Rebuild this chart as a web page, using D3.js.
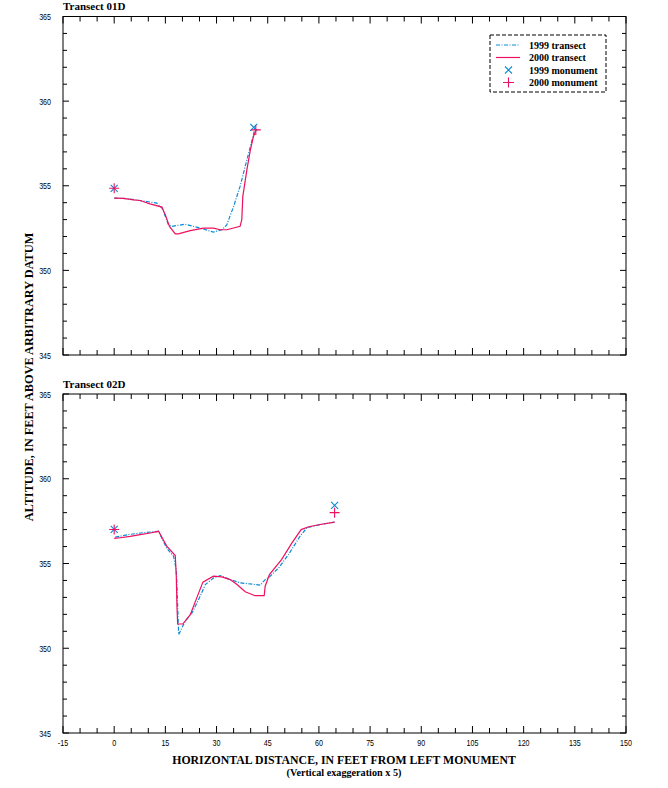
<!DOCTYPE html>
<html>
<head>
<meta charset="utf-8">
<script src="https://cdn.jsdelivr.net/npm/d3@7"></script>
<style>
  body { margin: 0; background: #fff; }
  .tick-label { font-family: "Liberation Sans", "DejaVu Sans", sans-serif; font-size: 9.5px; }
  .serif { font-family: "Liberation Serif", "Times New Roman", serif; font-weight: bold; }
</style>
</head>
<body>
<div id="chart"></div>
<script>
// Transect 01D
var t1Dist1999 = [0, 3.7, 9.6, 12.5, 14, 15, 15.9, 16.9, 20.8, 25.2, 29.1, 31.6, 33.0, 35, 36.9, 38.9, 40.8, 41.2];
var t1Alt1999  = [354.27, 354.24, 354.07, 353.97, 353.68, 353.18, 352.69, 352.6, 352.73, 352.5, 352.26, 352.4, 352.69, 353.78, 354.96, 356.54, 358.0, 358.4];
var t1Dist2000 = [0, 2.7, 5.7, 7.6, 10.5, 14, 15, 16.2, 17.9, 18.8, 22.3, 26.2, 29.1, 31.1, 33.0, 36.9, 37.4, 37.7, 38.9, 39.9, 40.8, 41.5];
var t1Alt2000  = [354.27, 354.25, 354.17, 354.13, 353.93, 353.74, 353.28, 352.6, 352.16, 352.16, 352.35, 352.5, 352.5, 352.4, 352.4, 352.6, 353.0, 354.37, 355.95, 357.1, 357.9, 358.27];
var t1Mon1999 = [[0, 354.85], [40.9, 358.45]];
var t1Mon2000 = [[0, 354.85], [41.5, 358.3]];

// Transect 02D
var t2Dist1999 = [0.3, 4.7, 8.6, 13.0, 15.4, 17.4, 18.2, 18.4, 18.6, 18.9, 20.8, 22.8, 25.2, 26.7, 29.1, 31.1, 34, 36.9, 41.3, 42.8, 44.25, 45.5, 48.2, 51.1, 54.5, 56.5, 60.4, 64.6];
var t2Alt1999  = [356.56, 356.72, 356.82, 356.9, 355.9, 355.43, 354.64, 353.66, 352.47, 350.8, 351.59, 352.08, 353.07, 353.76, 354.14, 354.29, 354.05, 353.86, 353.76, 353.72, 354.05, 354.21, 354.74, 355.53, 356.62, 357.11, 357.3, 357.44];
var t2Dist2000 = [0, 1.76, 4.7, 7.6, 10.55, 13.0, 15.4, 17.9, 18.2, 18.4, 18.6, 20.1, 22.3, 24.2, 26.0, 29.1, 31.5, 34, 36, 38.4, 41.3, 43.96, 44.25, 45.5, 49.1, 52.1, 54.8, 57.0, 60.4, 64.6];
var t2Alt2000  = [356.48, 356.52, 356.6, 356.7, 356.8, 356.9, 356.03, 355.47, 354.25, 352.47, 351.43, 351.43, 351.98, 352.97, 353.9, 354.25, 354.21, 354.05, 353.76, 353.33, 353.1, 353.1, 353.66, 354.35, 355.24, 356.22, 357.0, 357.17, 357.3, 357.44];
var t2Mon1999 = [[0, 357.01], [64.6, 358.43]];
var t2Mon2000 = [[0, 357.01], [64.6, 358.0]];

var xTicks = [-15, 0, 15, 30, 45, 60, 75, 90, 105, 120, 135, 150];
var yTicks = [345, 350, 355, 360, 365];
var legendLabels = ["1999 transect", "2000 transect", "1999 monument", "2000 monument"];

var blue = "#0a8ad6", red = "#ee1060";
var narrow = 0.75; // horizontal squeeze for the condensed tick font

var width = 668, height = 788;
var svg = d3.select("#chart").append("svg")
  .attr("width", width)
  .attr("height", height);

var x = d3.scaleLinear().domain([-15, 150]).range([63, 626]);

var panels = [
  { title: "Transect 01D", top: 16.5, bottom: 355, d99: t1Dist1999, a99: t1Alt1999, d00: t1Dist2000, a00: t1Alt2000, m99: t1Mon1999, m00: t1Mon2000, legend: true, xLabels: false },
  { title: "Transect 02D", top: 394, bottom: 733, d99: t2Dist1999, a99: t2Alt1999, d00: t2Dist2000, a00: t2Alt2000, m99: t2Mon1999, m00: t2Mon2000, legend: false, xLabels: true }
];

panels.forEach(function(p) {
  var y = d3.scaleLinear().domain([345, 365]).range([p.bottom, p.top]);
  var g = svg.append("g");

  // frame
  g.append("rect")
    .attr("x", x(-15)).attr("y", y(365))
    .attr("width", x(150) - x(-15)).attr("height", y(345) - y(365))
    .attr("fill", "none").attr("stroke", "#000").attr("stroke-width", 1);

  // x ticks every 5, inward, top and bottom
  d3.range(-15, 151, 5).forEach(function(v) {
    var len = (v % 15 === 0) ? 7 : 5;
    g.append("line").attr("x1", x(v)).attr("x2", x(v)).attr("y1", y(345)).attr("y2", y(345) - len).attr("stroke", "#000");
    g.append("line").attr("x1", x(v)).attr("x2", x(v)).attr("y1", y(365)).attr("y2", y(365) + len).attr("stroke", "#000");
  });
  // y ticks every 1, inward, left and right
  d3.range(345, 366, 1).forEach(function(v) {
    var len = (v % 5 === 0) ? 6 : 4;
    g.append("line").attr("x1", x(-15)).attr("x2", x(-15) + len).attr("y1", y(v)).attr("y2", y(v)).attr("stroke", "#000");
    g.append("line").attr("x1", x(150)).attr("x2", x(150) - len).attr("y1", y(v)).attr("y2", y(v)).attr("stroke", "#000");
  });

  g.selectAll(".ylab").data(yTicks).enter().append("text")
    .attr("class", "tick-label")
    .attr("transform", function(d) { return "translate(51," + (y(d) + 3.5) + ") scale(" + narrow + ",1)"; })
    .attr("text-anchor", "end")
    .text(function(d) { return d; });

  if (p.xLabels) {
    g.selectAll(".xlab").data(xTicks).enter().append("text")
      .attr("class", "tick-label")
      .attr("transform", function(d) { return "translate(" + x(d) + "," + (y(345) + 13) + ") scale(" + narrow + ",1)"; })
      .attr("text-anchor", "middle")
      .text(function(d) { return d; });
  }

  g.append("text").attr("class", "serif")
    .attr("x", 63).attr("y", p.top - 6.5)
    .attr("font-size", "11px")
    .text(p.title);

  var line = d3.line().x(function(d) { return x(d[0]); }).y(function(d) { return y(d[1]); });

  g.append("path")
    .datum(d3.zip(p.d99, p.a99))
    .attr("d", line).attr("fill", "none")
    .attr("stroke", blue).attr("stroke-width", 1.2)
    .attr("stroke-dasharray", "4,1.5,1,1.5");
  g.append("path")
    .datum(d3.zip(p.d00, p.a00))
    .attr("d", line).attr("fill", "none")
    .attr("stroke", red).attr("stroke-width", 1.2);

  // monuments
  p.m99.forEach(function(m) {
    var cx = x(m[0]), cy = y(m[1]), s = 3.5;
    g.append("path")
      .attr("d", "M" + (cx - s) + "," + (cy - s) + "L" + (cx + s) + "," + (cy + s) + "M" + (cx - s) + "," + (cy + s) + "L" + (cx + s) + "," + (cy - s))
      .attr("stroke", blue).attr("stroke-width", 1.1);
  });
  p.m00.forEach(function(m) {
    var cx = x(m[0]), cy = y(m[1]), s = 5;
    g.append("path")
      .attr("d", "M" + (cx - s) + "," + cy + "L" + (cx + s) + "," + cy + "M" + cx + "," + (cy - s) + "L" + cx + "," + (cy + s))
      .attr("stroke", red).attr("stroke-width", 1.1);
  });

  if (p.legend) {
    var lg = g.append("g").attr("transform", "translate(490,35)");
    lg.append("rect").attr("width", 116).attr("height", 57)
      .attr("fill", "#fff").attr("stroke", "#000").attr("stroke-dasharray", "4,2");
    legendLabels.forEach(function(lab, i) {
      var ly = 10 + i * 12.5;
      if (i === 0) {
        lg.append("line").attr("x1", 6).attr("x2", 30).attr("y1", ly).attr("y2", ly)
          .attr("stroke", blue).attr("stroke-width", 1.2).attr("stroke-dasharray", "4,1.5,1,1.5");
      } else if (i === 1) {
        lg.append("line").attr("x1", 6).attr("x2", 30).attr("y1", ly).attr("y2", ly)
          .attr("stroke", red).attr("stroke-width", 1.2);
      } else if (i === 2) {
        lg.append("path").attr("d", "M15,"+(ly-3.5)+"L22,"+(ly+3.5)+"M15,"+(ly+3.5)+"L22,"+(ly-3.5))
          .attr("stroke", blue).attr("stroke-width", 1.1);
      } else {
        lg.append("path").attr("d", "M13,"+ly+"L24,"+ly+"M18.5,"+(ly-5)+"L18.5,"+(ly+5))
          .attr("stroke", red).attr("stroke-width", 1.1);
      }
      lg.append("text").attr("class", "serif").attr("font-size", "10px")
        .attr("x", 39).attr("y", ly + 3.5).text(lab);
    });
  }
});

svg.append("text").attr("class", "serif")
  .attr("transform", "translate(33,377) rotate(-90)")
  .attr("text-anchor", "middle").attr("font-size", "12.3px")
  .text("ALTITUDE, IN FEET ABOVE ARBITRARY DATUM");

svg.append("text").attr("class", "serif")
  .attr("x", 344).attr("y", 764)
  .attr("text-anchor", "middle").attr("font-size", "11.8px")
  .text("HORIZONTAL DISTANCE, IN FEET FROM LEFT MONUMENT");

svg.append("text").attr("class", "serif")
  .attr("x", 344).attr("y", 776)
  .attr("text-anchor", "middle").attr("font-size", "10.2px")
  .text("(Vertical exaggeration x 5)");
</script>
</body>
</html>
